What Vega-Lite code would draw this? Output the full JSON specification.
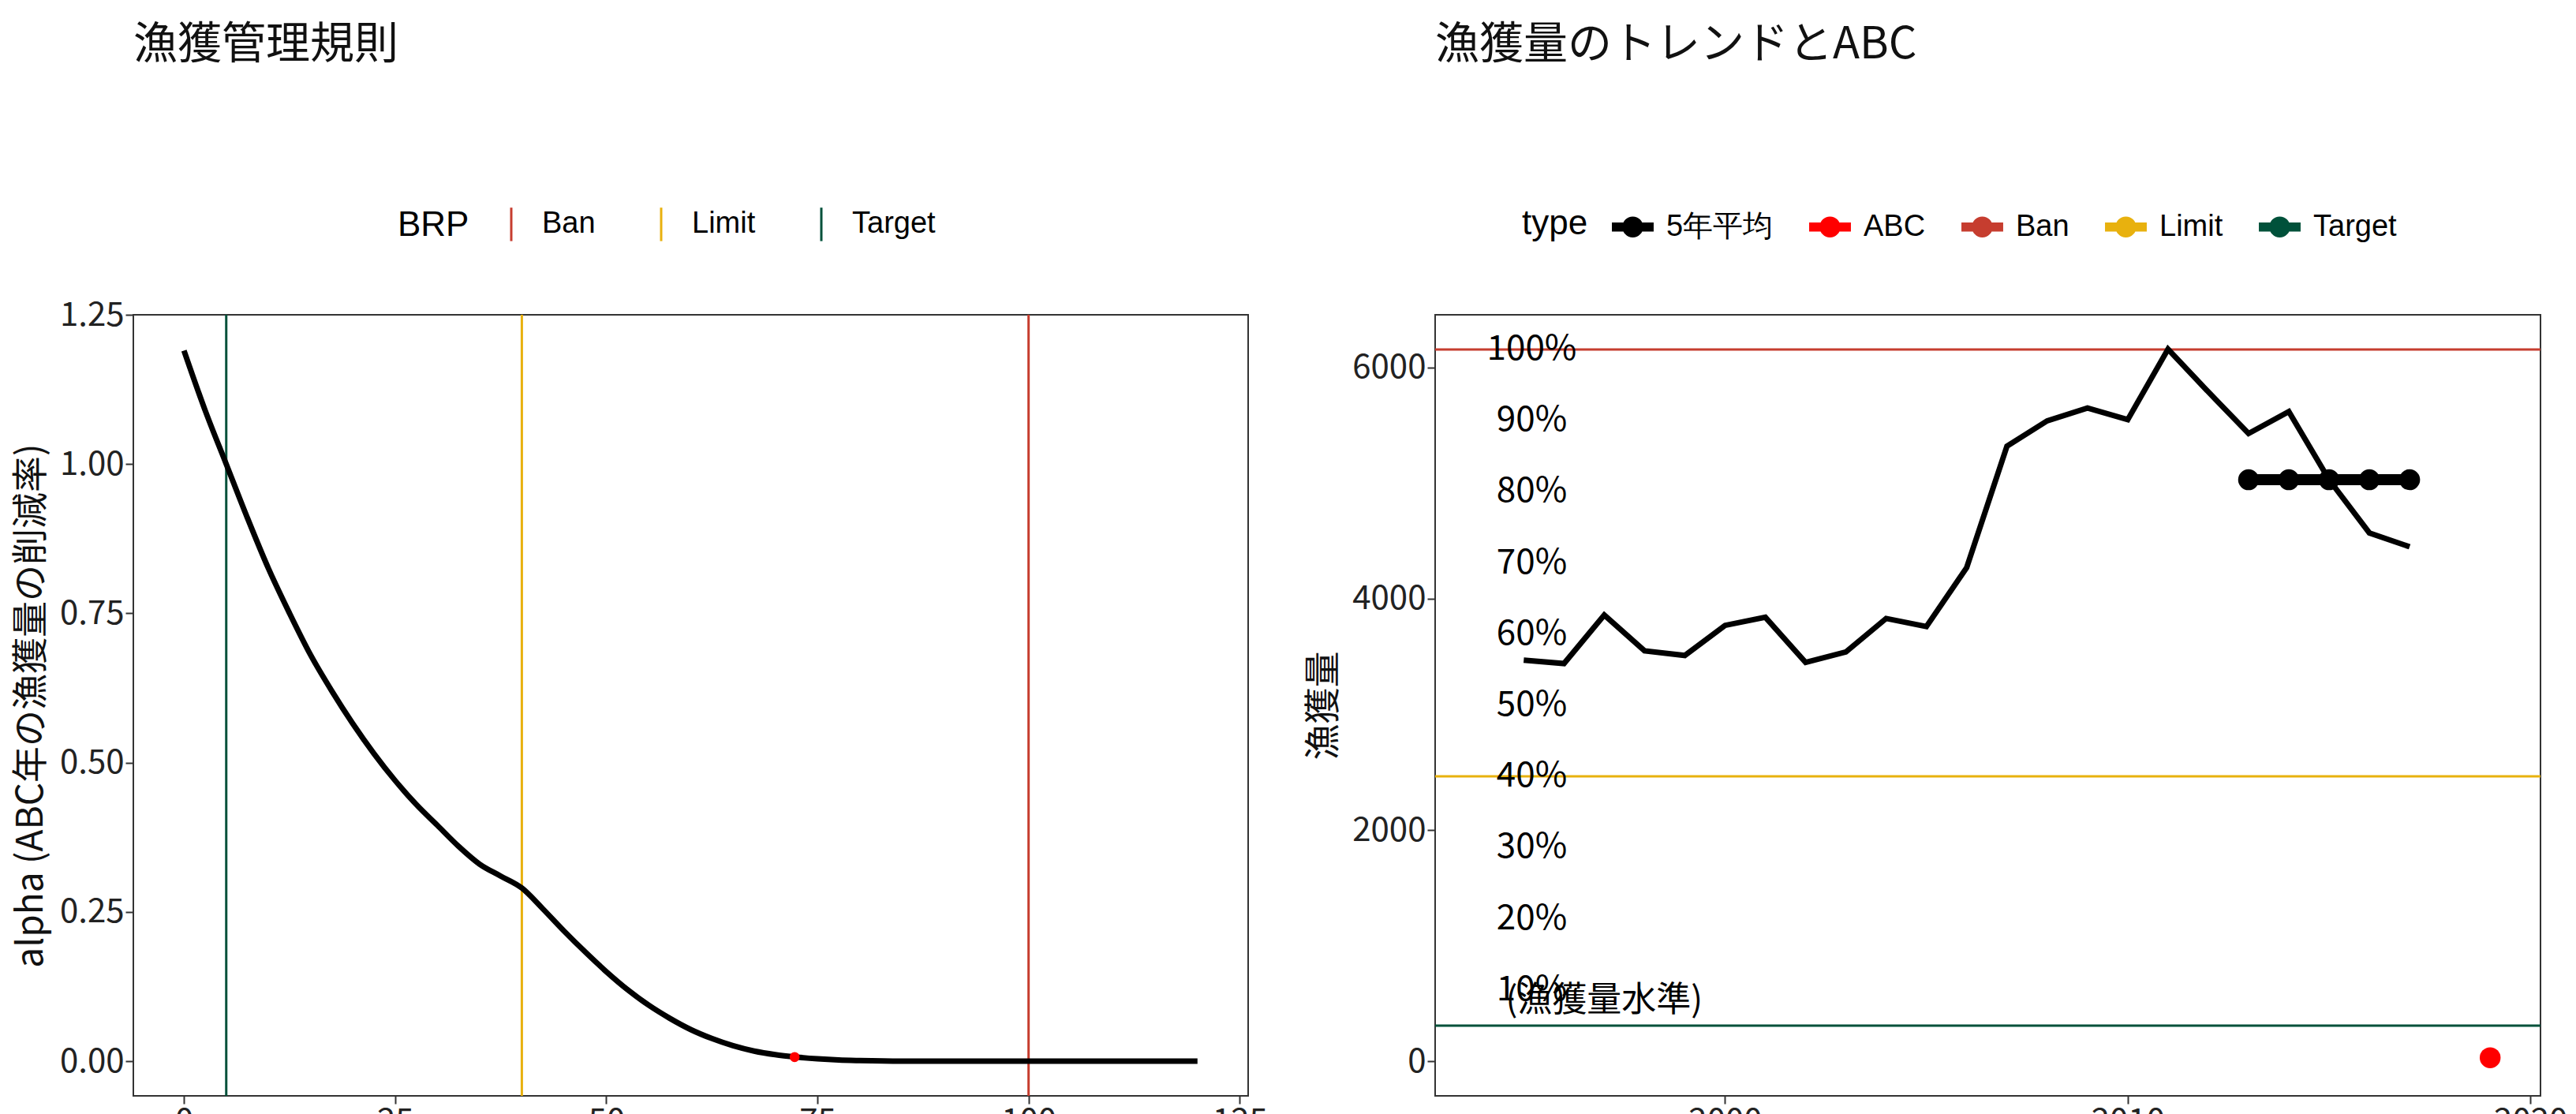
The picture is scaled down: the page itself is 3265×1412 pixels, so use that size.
{
  "$schema": "https://vega.github.io/schema/vega-lite/v6.json",
  "padding": {"left": 15, "top": 28, "right": 10, "bottom": 10},
  "background": "white",
  "config": {
    "font": "Noto Sans CJK JP",
    "view": {"stroke": "#333333", "strokeWidth": 2},
    "axis": {"grid": false, "domain": false, "tickColor": "#333333", "tickWidth": 2, "tickSize": 10, "labelFontSize": 42, "labelColor": "#222222", "titleFontSize": 46, "titleFontWeight": "normal", "titleColor": "#111111", "labelFont": "Noto Sans CJK JP", "titleFont": "Noto Sans CJK JP"},
    "legend": {"orient": "none", "direction": "horizontal", "titleOrient": "left", "titleFontSize": 44, "titleFontWeight": "normal", "titleFont": "Liberation Sans", "labelFont": "Liberation Sans", "labelFontSize": 38, "columnPadding": 50, "titlePadding": 30, "labelOffset": 16},
    "title": {"anchor": "start", "frame": "group", "fontSize": 56, "fontWeight": "normal", "font": "Noto Sans CJK JP", "offset": 175, "color": "#111111"}
  },
  "datasets": {
    "curve": [
      {"x": 0, "y": 1.19}, {"x": 2.5, "y": 1.09}, {"x": 5, "y": 1.0}, {"x": 7.5, "y": 0.91}, {"x": 10, "y": 0.825},
      {"x": 12.5, "y": 0.75}, {"x": 15, "y": 0.68}, {"x": 17.5, "y": 0.62}, {"x": 20, "y": 0.565}, {"x": 22.5, "y": 0.515},
      {"x": 25, "y": 0.47}, {"x": 27.5, "y": 0.43}, {"x": 30, "y": 0.395}, {"x": 32.5, "y": 0.36}, {"x": 35, "y": 0.33},
      {"x": 37.5, "y": 0.31}, {"x": 40, "y": 0.29}, {"x": 42.5, "y": 0.255}, {"x": 45, "y": 0.218}, {"x": 47.5, "y": 0.183},
      {"x": 50, "y": 0.15}, {"x": 52.5, "y": 0.12}, {"x": 55, "y": 0.094}, {"x": 57.5, "y": 0.072}, {"x": 60, "y": 0.053},
      {"x": 62.5, "y": 0.038}, {"x": 65, "y": 0.026}, {"x": 67.5, "y": 0.017}, {"x": 70, "y": 0.011}, {"x": 72.5, "y": 0.007},
      {"x": 75, "y": 0.004}, {"x": 77.5, "y": 0.002}, {"x": 80, "y": 0.001}, {"x": 85, "y": 0.0}, {"x": 90, "y": 0.0},
      {"x": 100, "y": 0.0}, {"x": 110, "y": 0.0}, {"x": 120, "y": 0.0}
    ],
    "brpLeft": [
      {"BRP": "Ban", "x": 100}, {"BRP": "Limit", "x": 40}, {"BRP": "Target", "x": 5}
    ],
    "catch": [
      {"year": 1995, "catch": 3470}, {"year": 1996, "catch": 3440}, {"year": 1997, "catch": 3860}, {"year": 1998, "catch": 3550},
      {"year": 1999, "catch": 3510}, {"year": 2000, "catch": 3770}, {"year": 2001, "catch": 3840}, {"year": 2002, "catch": 3450},
      {"year": 2003, "catch": 3540}, {"year": 2004, "catch": 3830}, {"year": 2005, "catch": 3760}, {"year": 2006, "catch": 4270},
      {"year": 2007, "catch": 5320}, {"year": 2008, "catch": 5540}, {"year": 2009, "catch": 5650}, {"year": 2010, "catch": 5550},
      {"year": 2011, "catch": 6160}, {"year": 2012, "catch": 5790}, {"year": 2013, "catch": 5430}, {"year": 2014, "catch": 5620},
      {"year": 2015, "catch": 5030}, {"year": 2016, "catch": 4570}, {"year": 2017, "catch": 4450}
    ],
    "avg": [
      {"year": 2013, "catch": 5030, "type": "5年平均"}, {"year": 2014, "catch": 5030, "type": "5年平均"},
      {"year": 2015, "catch": 5030, "type": "5年平均"}, {"year": 2016, "catch": 5030, "type": "5年平均"},
      {"year": 2017, "catch": 5030, "type": "5年平均"}
    ],
    "abc": [{"year": 2019, "catch": 30, "type": "ABC"}],
    "brpRight": [
      {"type": "Ban", "catch": 6157}, {"type": "Limit", "catch": 2464}, {"type": "Target", "catch": 308}
    ],
    "pct": [
      {"year": 1995.2, "catch": 6157, "label": "100%"}, {"year": 1995.2, "catch": 5541, "label": "90%"},
      {"year": 1995.2, "catch": 4926, "label": "80%"}, {"year": 1995.2, "catch": 4310, "label": "70%"},
      {"year": 1995.2, "catch": 3694, "label": "60%"}, {"year": 1995.2, "catch": 3079, "label": "50%"},
      {"year": 1995.2, "catch": 2463, "label": "40%"}, {"year": 1995.2, "catch": 1847, "label": "30%"},
      {"year": 1995.2, "catch": 1231, "label": "20%"}, {"year": 1995.2, "catch": 616, "label": "10%"},
      {"year": 1997, "catch": 520, "label": "(漁獲量水準)"}
    ]
  },
  "resolve": {"scale": {"color": "independent"}},
  "spacing": 45,
  "hconcat": [
    {
      "title": "漁獲管理規則",
      "width": 1413,
      "height": 990,
      "layer": [
        {
          "data": {"name": "brpLeft"},
          "mark": {"type": "rule", "strokeWidth": 3},
          "encoding": {
            "x": {"field": "x", "type": "quantitative", "scale": {"domain": [-6, 126], "nice": false}},
            "color": {"field": "BRP", "type": "nominal",
              "scale": {"domain": ["Ban", "Limit", "Target"], "range": ["#C63D2F", "#E8B10E", "#00513A"]},
              "legend": {"title": "BRP", "legendX": 335, "legendY": -138, "symbolType": "M0,-1V1", "symbolSize": 1800, "symbolStrokeWidth": 3, "columnPadding": 60}}
          }
        },
        {
          "data": {"name": "curve"},
          "mark": {"type": "line", "color": "black", "strokeWidth": 7, "interpolate": "monotone"},
          "encoding": {
            "x": {"field": "x", "type": "quantitative", "title": "漁獲量水準 (漁獲量/最大漁獲量, %)", "scale": {"domain": [-6, 126], "nice": false}, "axis": {"values": [0, 25, 50, 75, 100, 125], "titlePadding": 4}},
            "y": {"field": "y", "type": "quantitative", "title": "alpha (ABC年の漁獲量の削減率)", "scale": {"domain": [-0.058, 1.25], "nice": false}, "axis": {"values": [0, 0.25, 0.5, 0.75, 1, 1.25], "format": ".2f", "titlePadding": 12}}
          }
        },
        {
          "data": {"values": [{"x": 72.3, "y": 0.007}]},
          "mark": {"type": "point", "filled": true, "color": "#FF0000", "size": 160, "opacity": 1},
          "encoding": {
            "x": {"field": "x", "type": "quantitative"},
            "y": {"field": "y", "type": "quantitative"}
          }
        }
      ]
    },
    {
      "title": "漁獲量のトレンドとABC",
      "width": 1401,
      "height": 990,
      "layer": [
        {
          "data": {"name": "brpRight"},
          "mark": {"type": "rule", "strokeWidth": 3},
          "encoding": {
            "y": {"field": "catch", "type": "quantitative", "scale": {"domain": [-300, 6457], "nice": false}},
            "color": {"field": "type", "type": "nominal",
              "scale": {"domain": ["5年平均", "ABC", "Ban", "Limit", "Target"], "range": ["#000000", "#FF0000", "#C63D2F", "#E8B10E", "#00513A"]},
              "legend": {"title": "type", "legendX": 110, "legendY": -138, "symbolType": "M-1,-0.22H1V0.22H-1Z M0.5,0A0.5,0.5 0 1,1 -0.5,0A0.5,0.5 0 1,1 0.5,0Z", "symbolSize": 2800, "symbolStrokeWidth": 0, "columnPadding": 45}}
          }
        },
        {
          "data": {"name": "catch"},
          "mark": {"type": "line", "color": "black", "strokeWidth": 7},
          "encoding": {
            "x": {"field": "year", "type": "quantitative", "title": "年", "scale": {"domain": [1992.8, 2020.25], "nice": false, "zero": false}, "axis": {"values": [2000, 2010, 2020], "format": "d", "titlePadding": 4}},
            "y": {"field": "catch", "type": "quantitative", "title": "漁獲量", "axis": {"values": [0, 2000, 4000, 6000], "format": "d", "titlePadding": 12}}
          }
        },
        {
          "data": {"name": "avg"},
          "mark": {"type": "line", "strokeWidth": 14, "point": {"filled": true, "size": 700}},
          "encoding": {
            "x": {"field": "year", "type": "quantitative"},
            "y": {"field": "catch", "type": "quantitative"},
            "color": {"field": "type", "type": "nominal"}
          }
        },
        {
          "data": {"name": "abc"},
          "mark": {"type": "point", "filled": true, "size": 700, "opacity": 1},
          "encoding": {
            "x": {"field": "year", "type": "quantitative"},
            "y": {"field": "catch", "type": "quantitative"},
            "color": {"field": "type", "type": "nominal"}
          }
        },
        {
          "data": {"name": "pct"},
          "mark": {"type": "text", "fontSize": 44, "color": "black", "font": "Noto Sans CJK JP", "align": "center", "baseline": "middle"},
          "encoding": {
            "x": {"field": "year", "type": "quantitative"},
            "y": {"field": "catch", "type": "quantitative"},
            "text": {"field": "label"}
          }
        }
      ]
    }
  ]
}
